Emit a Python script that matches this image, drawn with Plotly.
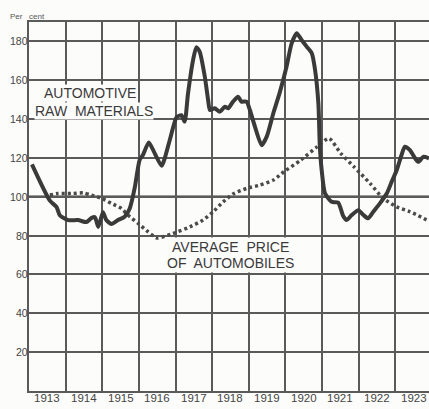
import plotly.graph_objects as go

# ---- data ----
raw_years = [1913.08, 1913.57, 1913.75, 1913.84, 1914.07, 1914.34, 1914.57, 1914.70, 1914.80, 1914.89,
             1915.02, 1915.11, 1915.25, 1915.43, 1915.61, 1915.75, 1915.89, 1916.02, 1916.11, 1916.27,
             1916.43, 1916.62, 1916.84, 1917.03, 1917.16, 1917.25, 1917.34, 1917.48, 1917.57, 1917.66,
             1917.80, 1917.89, 1917.94, 1918.07, 1918.21, 1918.35, 1918.44, 1918.57, 1918.71, 1918.80,
             1918.94, 1919.03, 1919.17, 1919.35, 1919.49, 1919.67, 1919.85, 1920.03, 1920.17, 1920.31,
             1920.44, 1920.58, 1920.72, 1920.81, 1920.90, 1920.94, 1920.99, 1921.08, 1921.26, 1921.44,
             1921.58, 1921.67, 1921.81, 1921.99, 1922.13, 1922.26, 1922.40, 1922.58, 1922.77, 1922.90,
             1923.04, 1923.17, 1923.26, 1923.40, 1923.54, 1923.63, 1923.77, 1923.92]
raw_values = [116.7, 98, 94.8, 90.5, 88, 88, 87, 89, 89.5, 84.5,
              92, 88, 86, 88, 89.7, 94, 105, 119, 121.5, 128,
              122.5, 116, 129, 141, 142, 138.7, 153, 170.5, 177, 174.7,
              161.8, 149.8, 144.7, 145.6, 143.8, 146.4, 145.6, 149, 151.5, 149,
              149, 144.7, 136, 126.6, 131, 143, 154, 167, 179, 184.2,
              180.8, 177.3, 173.9, 165.3, 148, 125.8, 113.8, 101.8, 97.4, 97,
              90, 88, 90.6, 93.1, 90.6, 88.9, 92.3, 96.6, 101.8, 107.7,
              113.8, 121.5, 125.8, 124, 119.8, 118, 120.6, 119.8]

price_years = [1913.57, 1913.79, 1914.16, 1914.48, 1914.70, 1914.98, 1915.25, 1915.52, 1915.70, 1915.98,
               1916.25, 1916.49, 1916.93, 1917.39, 1917.75, 1918.03, 1918.30, 1918.57, 1918.94, 1919.30,
               1919.67, 1919.96, 1920.42, 1920.87, 1921.19, 1921.51, 1921.87, 1922.31, 1922.67, 1923.04,
               1923.40, 1923.92]
price_values = [100.9, 101.7, 101.7, 102, 100.9, 99.2, 96.6, 94, 90.6, 86.3,
                82, 78.8, 81.1, 84.5, 88, 92.3, 97.4, 101.4, 104.3, 106,
                108.6, 112.9, 118.9, 125.8, 130.1, 122.4, 115.5, 106.9, 99.2, 94.8,
                92.3, 87.5]

year_labels = ["1913", "1914", "1915", "1916", "1917", "1918", "1919", "1920", "1921", "1922", "1923"]
year_centers = [1913.5 + i for i in range(len(year_labels))]
year_bounds = [1913 + i for i in range(12)]
y_ticks = [20, 40, 60, 80, 100, 120, 140, 160, 180]

INK = "#3a3a3a"
GRID = "#5a5a5a"
BG = "#fcfcfa"
FONT = "Liberation Sans, Arial, sans-serif"

fig = go.Figure()

fig.add_trace(go.Scatter(
    x=price_years, y=price_values, mode="lines",
    line=dict(color="#4a4a4a", width=3.5, dash="3px,3px", shape="spline", smoothing=0.6),
    hoverinfo="skip", showlegend=False))

fig.add_trace(go.Scatter(
    x=raw_years, y=raw_values, mode="lines",
    line=dict(color=INK, width=4, shape="spline", smoothing=0.6),
    hoverinfo="skip", showlegend=False))

# heavy 100 line
fig.add_shape(type="line", xref="paper", x0=0, x1=1, yref="y", y0=100, y1=100,
              line=dict(color="#3a3a3a", width=2.5), layer="below")

fig.update_layout(
    width=429, height=409,
    margin=dict(l=29, r=0, t=22, b=18),
    paper_bgcolor=BG, plot_bgcolor=BG,
    showlegend=False,
    font=dict(family=FONT, color="#444"),
    xaxis=dict(
        range=[1913, 1923.92],
        tickmode="array", tickvals=year_bounds, showticklabels=False,
        showgrid=True, gridcolor=GRID, gridwidth=1.5, zeroline=False, ticks="",
        showline=True, linecolor=GRID, linewidth=1.5, mirror=True,
        automargin=False,
    ),
    yaxis=dict(
        range=[0, 190],
        tickmode="array", tickvals=y_ticks, showticklabels=False,
        showgrid=True, gridcolor=GRID, gridwidth=1.5, zeroline=False,
        ticks="",
        showline=True, linecolor=GRID, linewidth=1.5,
        automargin=False,
    ),
)

# y tick labels, right-aligned against the left axis
for v in y_ticks:
    fig.add_annotation(text=str(v), x=0, xref="paper", y=v, yref="y",
                       xanchor="right", yanchor="middle", xshift=0,
                       showarrow=False, borderpad=0,
                       font=dict(size=10.5, color="#444", family=FONT))

# year labels under each year cell
for xc, lab in zip(year_centers, year_labels):
    fig.add_annotation(text=lab, x=xc, xref="x", y=0, yref="paper",
                       xanchor="center", yanchor="top", yshift=0,
                       showarrow=False, borderpad=0,
                       font=dict(size=11.5, color="#444", family=FONT))

fig.add_annotation(text="Per   cent", xref="paper", yref="paper", x=-0.05, y=1.03,
                   xanchor="left", yanchor="top", showarrow=False, borderpad=0,
                   font=dict(size=8, color="#555", family=FONT))

label_font = dict(size=14, color="#3a3a3a", family=FONT)
fig.add_annotation(text="AUTOMOTIVE", x=1914.66, y=153.5, xanchor="center", yanchor="middle",
                   showarrow=False, font=label_font, bgcolor=BG, borderpad=0)
fig.add_annotation(text="RAW  MATERIALS", x=1914.78, y=144.2, xanchor="center", yanchor="middle",
                   showarrow=False, font=label_font, bgcolor=BG, borderpad=0)
fig.add_annotation(text="AVERAGE  PRICE", x=1918.49, y=74.0, xanchor="center", yanchor="middle",
                   showarrow=False, font=label_font, bgcolor=BG, borderpad=1)
fig.add_annotation(text="OF  AUTOMOBILES", x=1918.49, y=65.7, xanchor="center", yanchor="middle",
                   showarrow=False, font=label_font, bgcolor=BG, borderpad=1)

# remove the default page margin so the 429x409 figure fills the window exactly
fig.write_html("out.html",
               config={"displayModeBar": False},
               post_script="document.body.style.margin='0';document.body.style.overflow='hidden';")
